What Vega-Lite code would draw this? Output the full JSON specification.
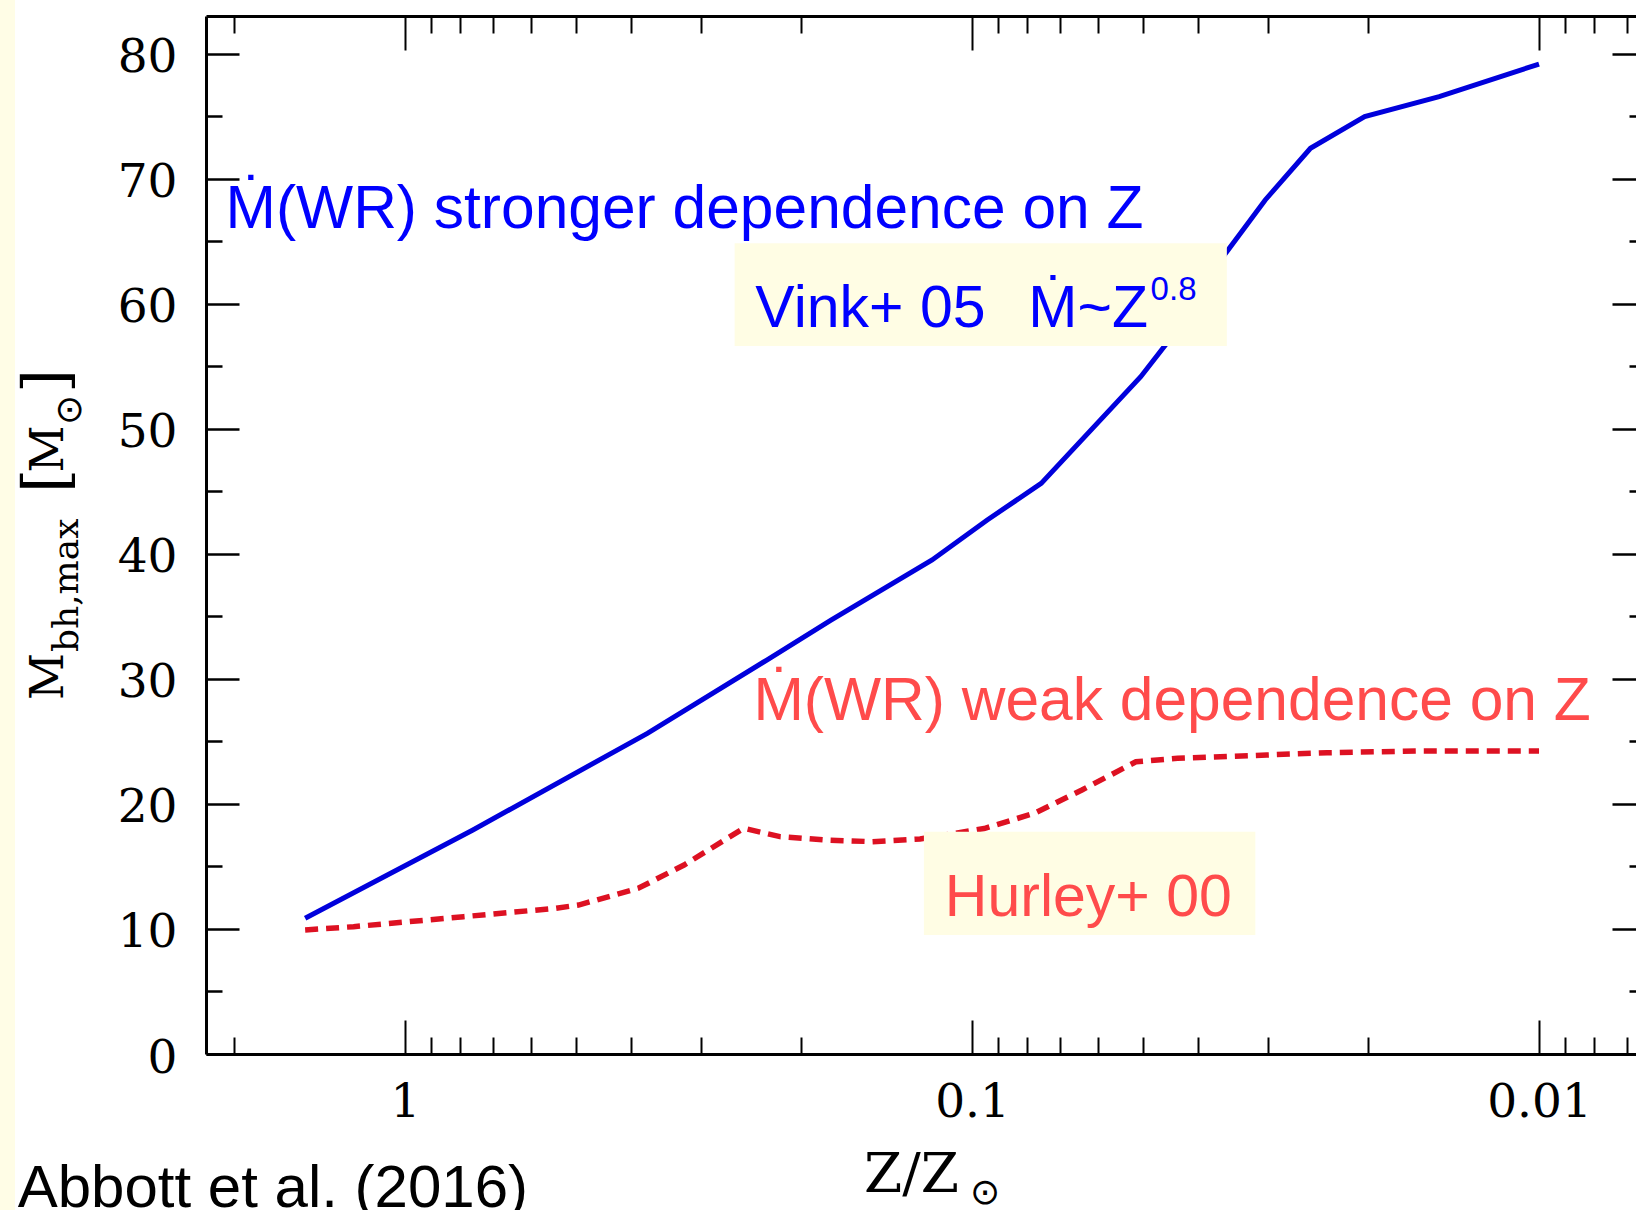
{
  "$schema": "https://vega.github.io/schema/vega-lite/v6.json",
  "width": 1430,
  "height": 1038,
  "autosize": {"type": "none"},
  "padding": {"left": 206, "top": 16, "right": 0, "bottom": 156},
  "background": "white",
  "config": {
    "view": {"stroke": null},
    "axis": {"grid": false, "domainColor": "black", "tickColor": "black", "labelColor": "black", "labelFont": "DejaVu Serif", "labelFontSize": 47, "title": null, "labelFlush": false, "labelOverlap": false, "labelBound": false}
  },
  "datasets": {
    "vink": [
      {"z": 1.5, "m": 10.85}, {"z": 0.759, "m": 17.91}, {"z": 0.3737, "m": 25.64}, {"z": 0.2301, "m": 31.5},
      {"z": 0.1773, "m": 34.7}, {"z": 0.1176, "m": 39.5}, {"z": 0.094, "m": 42.7}, {"z": 0.0755, "m": 45.63},
      {"z": 0.0504, "m": 54.16}, {"z": 0.0456, "m": 56.69}, {"z": 0.0357, "m": 64.03}, {"z": 0.0304, "m": 68.29},
      {"z": 0.0253, "m": 72.42}, {"z": 0.0203, "m": 74.95}, {"z": 0.015, "m": 76.55}, {"z": 0.01, "m": 79.16}
    ],
    "hurley": [
      {"z": 1.5, "m": 9.92}, {"z": 1.2326, "m": 10.18}, {"z": 0.788, "m": 10.98}, {"z": 0.5427, "m": 11.65},
      {"z": 0.4943, "m": 11.91}, {"z": 0.3878, "m": 13.25}, {"z": 0.322, "m": 15.11}, {"z": 0.2527, "m": 18.05},
      {"z": 0.2182, "m": 17.38}, {"z": 0.1806, "m": 17.11}, {"z": 0.1499, "m": 16.98}, {"z": 0.1235, "m": 17.19},
      {"z": 0.0952, "m": 18.03}, {"z": 0.0776, "m": 19.25}, {"z": 0.064, "m": 21.11}, {"z": 0.0514, "m": 23.37},
      {"z": 0.0434, "m": 23.64}, {"z": 0.0302, "m": 23.91}, {"z": 0.02366, "m": 24.09}, {"z": 0.01645, "m": 24.23},
      {"z": 0.01, "m": 24.23}
    ]
  },
  "layer": [
    {
      "data": {"values": [{"part": "margin"}]},
      "mark": {"type": "rect", "color": "#FFFDE6"},
      "encoding": {
        "x": {"datum": 5.18, "type": "quantitative", "scale": {"type": "log", "domain": [0.006745, 2.2436], "reverse": true, "nice": false}, "axis": null},
        "x2": {"datum": 4.873},
        "y": {"datum": 85, "type": "quantitative", "scale": {"domain": [0, 83], "nice": false, "zero": false}, "axis": null},
        "y2": {"datum": -13}
      }
    },
    {
      "data": {"name": "vink"},
      "mark": {"type": "line", "color": "#0000DC", "strokeWidth": 5},
      "encoding": {
        "x": {"field": "z", "type": "quantitative", "axis": null},
        "y": {"field": "m", "type": "quantitative", "axis": null}
      }
    },
    {
      "data": {"name": "hurley"},
      "mark": {"type": "line", "color": "#DD1122", "strokeWidth": 5.5, "strokeDash": [13, 8], "strokeCap": "butt"},
      "encoding": {
        "x": {"field": "z", "type": "quantitative", "axis": null},
        "y": {"field": "m", "type": "quantitative", "axis": null}
      }
    },
    {
      "data": {"values": [{"label": "Vink+ 05"}]},
      "mark": {"type": "rect", "color": "#FFFDE4"},
      "encoding": {
        "x": {"datum": 0.26222, "type": "quantitative", "axis": null},
        "x2": {"datum": 0.035527},
        "y": {"datum": 64.82, "type": "quantitative", "axis": null},
        "y2": {"datum": 56.61}
      }
    },
    {
      "data": {"values": [{"label": "Hurley+ 00"}]},
      "mark": {"type": "rect", "color": "#FFFDE4"},
      "encoding": {
        "x": {"datum": 0.12157, "type": "quantitative", "axis": null},
        "x2": {"datum": 0.031647},
        "y": {"datum": 17.78, "type": "quantitative", "axis": null},
        "y2": {"datum": 9.515}
      }
    },
    {
      "data": {"values": [{"label": "Ṁ(WR) stronger dependence on Z"}]},
      "mark": {"type": "text", "align": "left", "baseline": "alphabetic", "font": "Liberation Sans", "fontSize": 60.5, "color": "#0000FF"},
      "encoding": {
        "x": {"datum": 2.0728, "type": "quantitative", "axis": null},
        "y": {"datum": 66.02, "type": "quantitative", "axis": null},
        "text": {"field": "label"}
      }
    },
    {
      "data": {"values": [{"label": "Vink+ 05"}]},
      "mark": {"type": "text", "align": "left", "baseline": "alphabetic", "font": "Liberation Sans", "fontSize": 59, "color": "#0000FF"},
      "encoding": {
        "x": {"datum": 0.24105, "type": "quantitative", "axis": null},
        "y": {"datum": 58.16, "type": "quantitative", "axis": null},
        "text": {"field": "label"}
      }
    },
    {
      "data": {"values": [{"label": "Ṁ~Z"}]},
      "mark": {"type": "text", "align": "right", "baseline": "alphabetic", "font": "Liberation Sans", "fontSize": 59, "color": "#0000FF"},
      "encoding": {
        "x": {"datum": 0.048931, "type": "quantitative", "axis": null},
        "y": {"datum": 58.16, "type": "quantitative", "axis": null},
        "text": {"field": "label"}
      }
    },
    {
      "data": {"values": [{"label": "0.8"}]},
      "mark": {"type": "text", "align": "left", "baseline": "alphabetic", "font": "Liberation Sans", "fontSize": 33, "color": "#0000FF"},
      "encoding": {
        "x": {"datum": 0.048418, "type": "quantitative", "axis": null},
        "y": {"datum": 60.29, "type": "quantitative", "axis": null},
        "text": {"field": "label"}
      }
    },
    {
      "data": {"values": [{"label": "Ṁ(WR) weak dependence on Z"}]},
      "mark": {"type": "text", "align": "left", "baseline": "alphabetic", "font": "Liberation Sans", "fontSize": 60.5, "color": "#FF4B4B"},
      "encoding": {
        "x": {"datum": 0.24292, "type": "quantitative", "axis": null},
        "y": {"datum": 26.71, "type": "quantitative", "axis": null},
        "text": {"field": "label"}
      }
    },
    {
      "data": {"values": [{"label": "Hurley+ 00"}]},
      "mark": {"type": "text", "align": "left", "baseline": "alphabetic", "font": "Liberation Sans", "fontSize": 59, "color": "#FF4B4B"},
      "encoding": {
        "x": {"datum": 0.11166, "type": "quantitative", "axis": null},
        "y": {"datum": 11.03, "type": "quantitative", "axis": null},
        "text": {"field": "label"}
      }
    },
    {
      "data": {"values": [{"label": "Abbott et al. (2016)"}]},
      "mark": {"type": "text", "align": "left", "baseline": "alphabetic", "font": "Liberation Sans", "fontSize": 60, "color": "black"},
      "encoding": {
        "x": {"datum": 4.8198, "type": "quantitative", "axis": null},
        "y": {"datum": -12.234, "type": "quantitative", "axis": null},
        "text": {"field": "label"}
      }
    },
    {
      "data": {"values": [{"label": "Z/Z"}]},
      "mark": {"type": "text", "align": "left", "baseline": "alphabetic", "font": "DejaVu Serif", "fontSize": 55, "color": "black"},
      "encoding": {
        "x": {"datum": 0.15505, "type": "quantitative", "axis": null},
        "y": {"datum": -11.035, "type": "quantitative", "axis": null},
        "text": {"field": "label"}
      }
    },
    {
      "data": {"values": [{"label": "⊙"}]},
      "mark": {"type": "text", "align": "left", "baseline": "alphabetic", "font": "DejaVu Sans", "fontSize": 36, "color": "black"},
      "encoding": {
        "x": {"datum": 0.10081, "type": "quantitative", "axis": null},
        "y": {"datum": -12.0, "type": "quantitative", "axis": null},
        "text": {"field": "label"}
      }
    },
    {
      "data": {"values": [{"label": "M"}]},
      "mark": {"type": "text", "angle": 270, "align": "left", "baseline": "alphabetic", "font": "DejaVu Serif", "fontSize": 46, "color": "black"},
      "encoding": {
        "x": {"datum": 4.0103, "type": "quantitative", "axis": null},
        "y": {"datum": 28.31, "type": "quantitative", "axis": null},
        "text": {"field": "label"}
      }
    },
    {
      "data": {"values": [{"label": "bh,max"}]},
      "mark": {"type": "text", "angle": 270, "align": "left", "baseline": "alphabetic", "font": "DejaVu Serif", "fontSize": 36, "color": "black"},
      "encoding": {
        "x": {"datum": 3.7722, "type": "quantitative", "axis": null},
        "y": {"datum": 32.14, "type": "quantitative", "axis": null},
        "text": {"field": "label"}
      }
    },
    {
      "data": {"values": [{"label": "["}]},
      "mark": {"type": "text", "angle": 270, "align": "left", "baseline": "alphabetic", "font": "DejaVu Serif", "fontSize": 62, "color": "black"},
      "encoding": {
        "x": {"datum": 3.9457, "type": "quantitative", "axis": null},
        "y": {"datum": 44.86, "type": "quantitative", "axis": null},
        "text": {"field": "label"}
      }
    },
    {
      "data": {"values": [{"label": "M"}]},
      "mark": {"type": "text", "angle": 270, "align": "left", "baseline": "alphabetic", "font": "DejaVu Serif", "fontSize": 46, "color": "black"},
      "encoding": {
        "x": {"datum": 4.0103, "type": "quantitative", "axis": null},
        "y": {"datum": 46.5, "type": "quantitative", "axis": null},
        "text": {"field": "label"}
      }
    },
    {
      "data": {"values": [{"label": "⊙"}]},
      "mark": {"type": "text", "angle": 270, "align": "left", "baseline": "alphabetic", "font": "DejaVu Sans", "fontSize": 36, "color": "black"},
      "encoding": {
        "x": {"datum": 3.7276, "type": "quantitative", "axis": null},
        "y": {"datum": 50.3, "type": "quantitative", "axis": null},
        "text": {"field": "label"}
      }
    },
    {
      "data": {"values": [{"label": "]"}]},
      "mark": {"type": "text", "angle": 270, "align": "left", "baseline": "alphabetic", "font": "DejaVu Serif", "fontSize": 62, "color": "black"},
      "encoding": {
        "x": {"datum": 3.9457, "type": "quantitative", "axis": null},
        "y": {"datum": 52.85, "type": "quantitative", "axis": null},
        "text": {"field": "label"}
      }
    },
    {
      "data": {"name": "vink"},
      "mark": {"type": "point", "opacity": 0},
      "encoding": {
        "x": {"field": "z", "type": "quantitative", "axis": {"orient": "bottom", "values": [1, 0.1, 0.01], "format": "~g", "tickSize": -34, "tickWidth": 2, "domainWidth": 3, "labelPadding": 59, "labelBaseline": "top", "labelAlign": "center"}},
        "y": {"field": "m", "type": "quantitative", "axis": {"orient": "left", "values": [0, 10, 20, 30, 40, 50, 60, 70, 80], "tickSize": -33, "tickWidth": 2.5, "domainWidth": 3, "labelPadding": 62, "labelOffset": 4, "labelAlign": "right", "labelBaseline": "middle"}}
      }
    },
    {
      "data": {"name": "vink"},
      "mark": {"type": "point", "opacity": 0},
      "encoding": {
        "x": {"field": "z", "type": "quantitative", "axis": {"orient": "bottom", "values": [2, 0.9, 0.8, 0.7, 0.6, 0.5, 0.4, 0.3, 0.2, 0.09, 0.08, 0.07, 0.06, 0.05, 0.04, 0.03, 0.02, 0.009, 0.008, 0.007], "labels": false, "domain": false, "tickSize": -17, "tickWidth": 2}},
        "y": {"field": "m", "type": "quantitative", "axis": {"orient": "left", "values": [5, 15, 25, 35, 45, 55, 65, 75], "labels": false, "domain": false, "tickSize": -16, "tickWidth": 2.5}}
      }
    },
    {
      "data": {"name": "vink"},
      "mark": {"type": "point", "opacity": 0},
      "encoding": {
        "x": {"field": "z", "type": "quantitative", "axis": {"orient": "top", "values": [1, 0.1, 0.01], "labels": false, "tickSize": -34, "tickWidth": 2, "domainWidth": 3}},
        "y": {"field": "m", "type": "quantitative", "axis": {"orient": "right", "offset": 9, "values": [0, 10, 20, 30, 40, 50, 60, 70, 80], "labels": false, "tickSize": -33, "tickWidth": 2.5, "domainWidth": 3}}
      }
    },
    {
      "data": {"name": "vink"},
      "mark": {"type": "point", "opacity": 0},
      "encoding": {
        "x": {"field": "z", "type": "quantitative", "axis": {"orient": "top", "values": [2, 0.9, 0.8, 0.7, 0.6, 0.5, 0.4, 0.3, 0.2, 0.09, 0.08, 0.07, 0.06, 0.05, 0.04, 0.03, 0.02, 0.009, 0.008, 0.007], "labels": false, "domain": false, "tickSize": -17, "tickWidth": 2}},
        "y": {"field": "m", "type": "quantitative", "axis": {"orient": "right", "offset": 9, "values": [5, 15, 25, 35, 45, 55, 65, 75], "labels": false, "domain": false, "tickSize": -16, "tickWidth": 2.5}}
      }
    }
  ],
  "resolve": {"axis": {"x": "independent", "y": "independent"}}
}
